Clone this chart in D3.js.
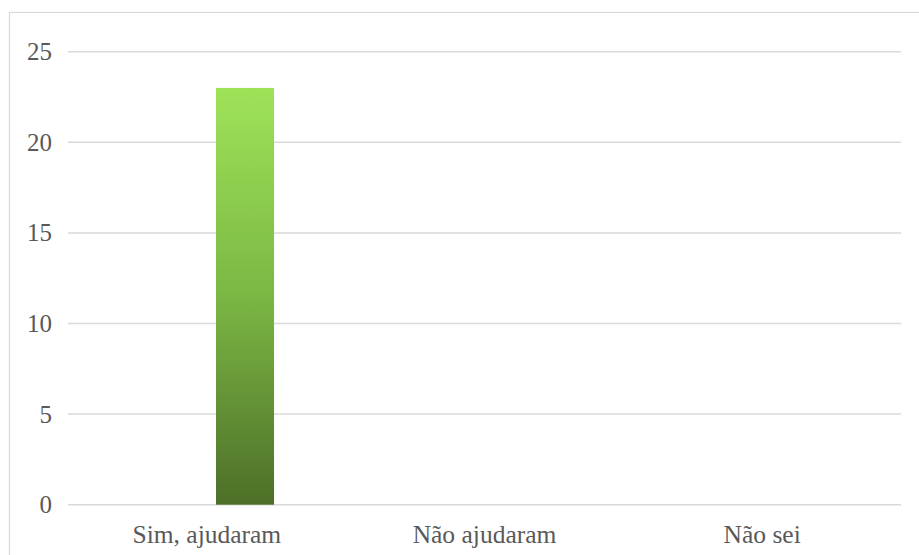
<!DOCTYPE html>
<html>
<head>
<meta charset="utf-8">
<script src="https://cdn.jsdelivr.net/npm/d3@7"></script>
<style>
  body { margin: 0; background: #ffffff; }
</style>
</head>
<body>
<div id="chart"></div>
<script>
    // data
    var categories = ["Sim, ajudaram", "Não ajudaram", "Não sei"];
    var values = [23, 0, 0];
    var yTicks = [0, 5, 10, 15, 20, 25];

    var W = 919, H = 555;
    var plotLeft = 68, plotRight = 901, plotTop = 51.7, plotBottom = 504.7;
    var serif = "'Liberation Serif', 'Times New Roman', Tinos, 'DejaVu Serif', serif";

    var svg = d3.select("#chart").append("svg")
        .attr("width", W)
        .attr("height", H);

    // gradient for the bar: light green on top, dark green at the base
    var grad = svg.append("defs").append("linearGradient")
        .attr("id", "barGrad")
        .attr("x1", 0).attr("y1", 0).attr("x2", 0).attr("y2", 1);
    grad.append("stop").attr("offset", "0%").attr("stop-color", "#9ee258");
    grad.append("stop").attr("offset", "50%").attr("stop-color", "#7bb744");
    grad.append("stop").attr("offset", "100%").attr("stop-color", "#4d6f28");

    // chart frame
    svg.append("rect")
        .attr("x", 9.5).attr("y", 12.5)
        .attr("width", 930).attr("height", 560)
        .attr("fill", "none")
        .attr("stroke", "#d9d9d9")
        .attr("stroke-width", 1.2);

    var x = d3.scaleBand().domain(categories).range([plotLeft, plotRight]);
    var y = d3.scaleLinear().domain([0, 25]).range([plotBottom, plotTop]);

    // gridlines
    svg.append("g").selectAll("line")
        .data(yTicks)
        .enter().append("line")
        .attr("x1", plotLeft).attr("x2", plotRight)
        .attr("y1", function (d) { return y(d); })
        .attr("y2", function (d) { return y(d); })
        .attr("stroke", "#d9d9d9")
        .attr("stroke-width", 1.5);

    // y axis labels
    var yAxis = d3.axisLeft(y).tickValues(yTicks).tickSize(0).tickPadding(16);
    var gy = svg.append("g").attr("transform", "translate(" + plotLeft + ",0)").call(yAxis);
    gy.select(".domain").remove();
    gy.selectAll("text")
        .style("font-size", "25px")
        .style("font-family", serif)
        .style("fill", "#595959");

    // x axis labels
    var xAxis = d3.axisBottom(x).tickSize(0).tickPadding(20);
    var gx = svg.append("g").attr("transform", "translate(0," + plotBottom + ")").call(xAxis);
    gx.select(".domain").remove();
    gx.selectAll("text")
        .style("font-size", "25.5px")
        .style("font-family", serif)
        .style("fill", "#595959");

    // bars (sit a bit right of the category centre, like the original)
    svg.append("g").selectAll("rect")
        .data(values)
        .enter().append("rect")
        .attr("x", function (d, i) { return x(categories[i]) + x.bandwidth() * 0.533; })
        .attr("width", x.bandwidth() * 0.209)
        .attr("y", function (d) { return y(d); })
        .attr("height", function (d) { return y(0) - y(d); })
        .attr("fill", "url(#barGrad)");
</script>
</body>
</html>
